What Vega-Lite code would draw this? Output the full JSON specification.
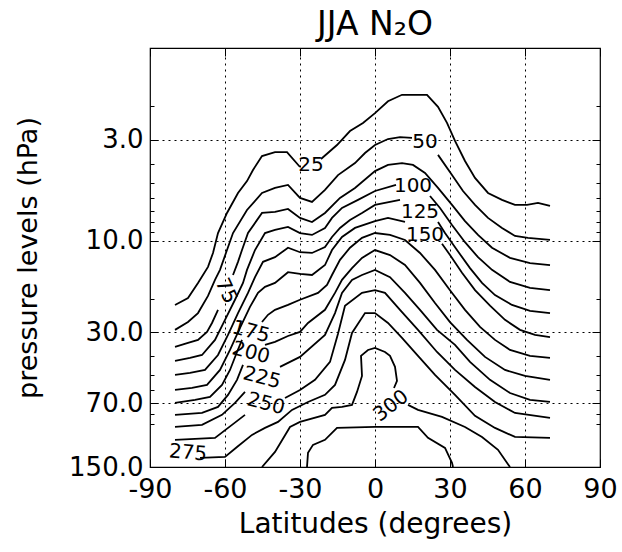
{
  "$schema": "https://vega.github.io/schema/vega-lite/v6.json",
  "width": 450,
  "height": 419,
  "autosize": {"type": "none"},
  "padding": {"left": 150, "top": 48, "right": 22, "bottom": 85},
  "title": {"text": "JJA N₂O", "fontSize": 33, "font": "DejaVu Sans", "fontWeight": "normal", "color": "black", "offset": 6, "anchor": "middle"},
  "config": {"view": {"stroke": "black", "strokeWidth": 1.2}, "font": "DejaVu Sans"},
  "resolve": {"axis": {"x": "independent", "y": "independent"}},
  "datasets": {
    "c": [
      {"s":"25a","lat":-80,"p":21.6},{"s":"25a","lat":-74.8,"p":19.9},{"s":"25a","lat":-70.8,"p":16.6},{"s":"25a","lat":-66.8,"p":13.7},{"s":"25a","lat":-64.8,"p":11.6},{"s":"25a","lat":-62.8,"p":9.14},{"s":"25a","lat":-59.2,"p":7.19},{"s":"25a","lat":-54.8,"p":5.66},{"s":"25a","lat":-51.2,"p":4.91},{"s":"25a","lat":-48.8,"p":4.30},{"s":"25a","lat":-45.2,"p":3.64},{"s":"25a","lat":-40,"p":3.47},{"s":"25a","lat":-35.2,"p":3.47},{"s":"25a","lat":-30,"p":4.15},
      {"s":"25b","lat":-21.6,"p":3.77},{"s":"25b","lat":-15.2,"p":3.19},{"s":"25b","lat":-10,"p":2.70},{"s":"25b","lat":-4.8,"p":2.45},{"s":"25b","lat":0,"p":2.18},{"s":"25b","lat":5.2,"p":1.89},{"s":"25b","lat":10.8,"p":1.75},{"s":"25b","lat":20.8,"p":1.75},{"s":"25b","lat":25.2,"p":2.02},{"s":"25b","lat":28.8,"p":2.45},{"s":"25b","lat":32,"p":3.04},{"s":"25b","lat":36,"p":3.86},{"s":"25b","lat":40,"p":4.73},{"s":"25b","lat":45.2,"p":5.66},{"s":"25b","lat":50.8,"p":6.15},{"s":"25b","lat":56,"p":6.53},{"s":"25b","lat":60.8,"p":6.53},{"s":"25b","lat":65.2,"p":6.38},{"s":"25b","lat":70,"p":6.61},
      {"s":"50a","lat":-80,"p":29.1},{"s":"50a","lat":-74.8,"p":26.5},{"s":"50a","lat":-70.8,"p":23.8},{"s":"50a","lat":-66.8,"p":19.4},{"s":"50a","lat":-64,"p":16.0},{"s":"50a","lat":-62,"p":14.2},{"s":"50a","lat":-59.2,"p":11.2},{"s":"50a","lat":-56.8,"p":9.14},{"s":"50a","lat":-51.2,"p":6.94},{"s":"50a","lat":-45.2,"p":5.66},{"s":"50a","lat":-40,"p":5.33},{"s":"50a","lat":-34.8,"p":5.14},{"s":"50a","lat":-30,"p":6.01},{"s":"50a","lat":-25.2,"p":6.30},{"s":"50a","lat":-20,"p":5.46},{"s":"50a","lat":-14.8,"p":4.57},{"s":"50a","lat":-8,"p":3.96},{"s":"50a","lat":-4,"p":3.51},{"s":"50a","lat":0,"p":3.19},{"s":"50a","lat":5.2,"p":2.97},{"s":"50a","lat":10,"p":2.90},{"s":"50a","lat":14.8,"p":2.93},
      {"s":"50b","lat":25.2,"p":3.59},{"s":"50b","lat":30.8,"p":4.57},{"s":"50b","lat":35.2,"p":5.53},{"s":"50b","lat":40,"p":6.53},{"s":"50b","lat":45.2,"p":7.63},{"s":"50b","lat":50.8,"p":8.60},{"s":"50b","lat":56,"p":9.46},{"s":"50b","lat":61.2,"p":9.69},{"s":"50b","lat":70,"p":9.93},
      {"s":"75a","lat":-80,"p":35.7},{"s":"75a","lat":-74.8,"p":34.0},{"s":"75a","lat":-70.8,"p":32.8},{"s":"75a","lat":-67.2,"p":29.8},{"s":"75a","lat":-65.2,"p":26.8},{"s":"75a","lat":-62.8,"p":22.9},
      {"s":"75b","lat":-56.8,"p":15.1},{"s":"75b","lat":-54.8,"p":12.9},{"s":"75b","lat":-53.2,"p":11.2},{"s":"75b","lat":-50.8,"p":9.14},{"s":"75b","lat":-45.2,"p":7.19},{"s":"75b","lat":-40,"p":7.10},{"s":"75b","lat":-34.8,"p":6.85},{"s":"75b","lat":-30,"p":7.63},{"s":"75b","lat":-25.2,"p":8.01},{"s":"75b","lat":-20,"p":7.19},{"s":"75b","lat":-14,"p":6.01},{"s":"75b","lat":-8,"p":5.33},{"s":"75b","lat":0,"p":4.36},{"s":"75b","lat":5.2,"p":4.05},{"s":"75b","lat":10.8,"p":3.96},{"s":"75b","lat":15.2,"p":4.05},{"s":"75b","lat":20,"p":4.46},{"s":"75b","lat":25.2,"p":5.33},{"s":"75b","lat":30.8,"p":6.53},{"s":"75b","lat":36,"p":7.92},{"s":"75b","lat":41.2,"p":9.35},{"s":"75b","lat":46.8,"p":10.9},{"s":"75b","lat":54,"p":12.3},{"s":"75b","lat":62,"p":13.1},{"s":"75b","lat":70,"p":13.4},
      {"s":"100a","lat":-80,"p":42.2},{"s":"100a","lat":-74,"p":40.7},{"s":"100a","lat":-69.2,"p":39.3},{"s":"100a","lat":-64,"p":32.8},{"s":"100a","lat":-60,"p":25.8},{"s":"100a","lat":-56,"p":20.3},{"s":"100a","lat":-52.8,"p":16.6},{"s":"100a","lat":-51.2,"p":14.2},{"s":"100a","lat":-48,"p":11.2},{"s":"100a","lat":-44,"p":9.14},{"s":"100a","lat":-40,"p":8.81},{"s":"100a","lat":-34.8,"p":8.50},{"s":"100a","lat":-30,"p":9.14},{"s":"100a","lat":-25.2,"p":9.35},{"s":"100a","lat":-20,"p":8.60},{"s":"100a","lat":-17.2,"p":7.63},{"s":"100a","lat":-13.2,"p":6.77},{"s":"100a","lat":-6.8,"p":6.15},{"s":"100a","lat":0,"p":5.53},{"s":"100a","lat":8.4,"p":5.14},
      {"s":"100b","lat":22,"p":5.87},{"s":"100b","lat":26,"p":6.77},{"s":"100b","lat":30.8,"p":8.30},{"s":"100b","lat":36,"p":10.2},{"s":"100b","lat":41.2,"p":12.2},{"s":"100b","lat":46.8,"p":14.2},{"s":"100b","lat":54,"p":16.4},{"s":"100b","lat":62,"p":17.6},{"s":"100b","lat":70,"p":18.1},
      {"s":"125a","lat":-80,"p":49.9},{"s":"125a","lat":-74,"p":48.7},{"s":"125a","lat":-68,"p":47.0},{"s":"125a","lat":-62.8,"p":39.3},{"s":"125a","lat":-58.8,"p":30.9},{"s":"125a","lat":-54.8,"p":23.8},{"s":"125a","lat":-50.8,"p":18.7},{"s":"125a","lat":-48,"p":15.5},{"s":"125a","lat":-44.8,"p":12.9},{"s":"125a","lat":-40,"p":12.2},{"s":"125a","lat":-34.8,"p":10.9},{"s":"125a","lat":-30,"p":11.5},{"s":"125a","lat":-25.2,"p":11.6},{"s":"125a","lat":-20,"p":10.8},{"s":"125a","lat":-17.2,"p":9.58},{"s":"125a","lat":-14,"p":8.60},{"s":"125a","lat":-10,"p":7.82},{"s":"125a","lat":-5.2,"p":7.19},{"s":"125a","lat":0,"p":6.53},{"s":"125a","lat":10,"p":6.15},
      {"s":"125b","lat":25.2,"p":8.01},{"s":"125b","lat":28,"p":9.14},{"s":"125b","lat":32.8,"p":11.2},{"s":"125b","lat":38,"p":13.9},{"s":"125b","lat":42.8,"p":16.6},{"s":"125b","lat":48,"p":19.2},{"s":"125b","lat":54.8,"p":21.6},{"s":"125b","lat":62,"p":23.2},{"s":"125b","lat":70,"p":23.8},
      {"s":"150a","lat":-80,"p":59.7},{"s":"150a","lat":-73.2,"p":58.3},{"s":"150a","lat":-67.2,"p":56.2},{"s":"150a","lat":-62,"p":47.0},{"s":"150a","lat":-58,"p":37.0},{"s":"150a","lat":-54,"p":28.4},{"s":"150a","lat":-50,"p":22.1},{"s":"150a","lat":-46.8,"p":18.7},{"s":"150a","lat":-44,"p":17.4},{"s":"150a","lat":-40,"p":16.6},{"s":"150a","lat":-34.8,"p":14.6},{"s":"150a","lat":-30,"p":14.9},{"s":"150a","lat":-25.2,"p":15.1},{"s":"150a","lat":-20,"p":13.4},{"s":"150a","lat":-17.2,"p":11.2},{"s":"150a","lat":-13.2,"p":9.58},{"s":"150a","lat":-8,"p":8.60},{"s":"150a","lat":0,"p":7.92},{"s":"150a","lat":5.2,"p":7.63},{"s":"150a","lat":12,"p":8.01},
      {"s":"150b","lat":26.8,"p":10.4},{"s":"150b","lat":30,"p":11.9},{"s":"150b","lat":34.8,"p":14.7},{"s":"150b","lat":40,"p":18.1},{"s":"150b","lat":46,"p":21.8},{"s":"150b","lat":52,"p":25.8},{"s":"150b","lat":58,"p":29.1},{"s":"150b","lat":64,"p":30.9},{"s":"150b","lat":70,"p":31.7},
      {"s":"175a","lat":-80,"p":69.7},{"s":"175a","lat":-72,"p":67.2},{"s":"175a","lat":-66,"p":64.9},{"s":"175a","lat":-61.2,"p":56.2},{"s":"175a","lat":-58,"p":47.0},{"s":"175a","lat":-55.2,"p":37.9},{"s":"175a","lat":-53.2,"p":32.8},
      {"s":"175b","lat":-45.2,"p":26.5},{"s":"175b","lat":-42.8,"p":24.3},{"s":"175b","lat":-40,"p":22.9},{"s":"175b","lat":-34.8,"p":21.6},{"s":"175b","lat":-30,"p":20.3},{"s":"175b","lat":-22.8,"p":18.7},{"s":"175b","lat":-19.2,"p":17.0},{"s":"175b","lat":-17.2,"p":15.1},{"s":"175b","lat":-14,"p":12.6},{"s":"175b","lat":-10,"p":10.9},{"s":"175b","lat":-5.2,"p":9.69},{"s":"175b","lat":0,"p":9.14},{"s":"175b","lat":6,"p":9.35},{"s":"175b","lat":12,"p":9.93},{"s":"175b","lat":18,"p":11.6},{"s":"175b","lat":24,"p":14.2},{"s":"175b","lat":30,"p":18.1},{"s":"175b","lat":36,"p":22.9},{"s":"175b","lat":42,"p":28.1},{"s":"175b","lat":48,"p":32.8},{"s":"175b","lat":54,"p":37.0},{"s":"175b","lat":62,"p":39.7},{"s":"175b","lat":70,"p":40.7},
      {"s":"200a","lat":-80,"p":80.4},{"s":"200a","lat":-69.2,"p":78.6},{"s":"200a","lat":-62.8,"p":73.1},{"s":"200a","lat":-58.8,"p":63.3},{"s":"200a","lat":-55.2,"p":52.9},{"s":"200a","lat":-52.8,"p":44.2},
      {"s":"200b","lat":-44,"p":34.8},{"s":"200b","lat":-40,"p":33.6},{"s":"200b","lat":-34.8,"p":31.3},{"s":"200b","lat":-30,"p":29.8},{"s":"200b","lat":-26.8,"p":26.8},{"s":"200b","lat":-20,"p":22.9},{"s":"200b","lat":-16,"p":18.7},{"s":"200b","lat":-13.2,"p":16.0},{"s":"200b","lat":-9.2,"p":13.9},{"s":"200b","lat":-5.2,"p":12.3},{"s":"200b","lat":0,"p":11.2},{"s":"200b","lat":6,"p":11.9},{"s":"200b","lat":12,"p":13.4},{"s":"200b","lat":18,"p":16.6},{"s":"200b","lat":24,"p":21.1},{"s":"200b","lat":30,"p":26.5},{"s":"200b","lat":36.8,"p":32.8},{"s":"200b","lat":44,"p":40.2},{"s":"200b","lat":52,"p":47.0},{"s":"200b","lat":60,"p":50.5},{"s":"200b","lat":70,"p":52.9},
      {"s":"225a","lat":-80,"p":92.9},{"s":"225a","lat":-69.2,"p":90.6},{"s":"225a","lat":-61.2,"p":80.4},{"s":"225a","lat":-56,"p":69.7},{"s":"225a","lat":-52,"p":61.1},
      {"s":"225b","lat":-38,"p":45.3},{"s":"225b","lat":-30,"p":40.2},{"s":"225b","lat":-20,"p":30.9},{"s":"225b","lat":-16,"p":23.8},{"s":"225b","lat":-13.2,"p":18.7},{"s":"225b","lat":-9.2,"p":16.0},{"s":"225b","lat":-5.2,"p":15.1},{"s":"225b","lat":0,"p":14.2},{"s":"225b","lat":6,"p":15.5},{"s":"225b","lat":12,"p":18.7},{"s":"225b","lat":18,"p":22.9},{"s":"225b","lat":24.8,"p":29.1},{"s":"225b","lat":32,"p":34.8},{"s":"225b","lat":38,"p":42.7},{"s":"225b","lat":46,"p":52.9},{"s":"225b","lat":54,"p":61.9},{"s":"225b","lat":62,"p":67.2},{"s":"225b","lat":70,"p":68.9},
      {"s":"250a","lat":-80,"p":108.4},{"s":"250a","lat":-64,"p":105.9},{"s":"250a","lat":-57.2,"p":90.6},{"s":"250a","lat":-52,"p":80.4},
      {"s":"250b","lat":-36,"p":65.7},{"s":"250b","lat":-30,"p":59.7},{"s":"250b","lat":-24,"p":52.9},{"s":"250b","lat":-18,"p":42.7},{"s":"250b","lat":-14.8,"p":30.5},{"s":"250b","lat":-12,"p":21.8},{"s":"250b","lat":-5.2,"p":18.7},{"s":"250b","lat":0,"p":18.1},{"s":"250b","lat":4,"p":18.7},{"s":"250b","lat":10,"p":22.9},{"s":"250b","lat":17.2,"p":29.1},{"s":"250b","lat":24.8,"p":37.9},{"s":"250b","lat":32,"p":47.0},{"s":"250b","lat":40,"p":57.6},{"s":"250b","lat":48,"p":68.9},{"s":"250b","lat":56,"p":78.6},{"s":"250b","lat":70,"p":83.4},
      {"s":"275","lat":-70,"p":134.5},{"s":"275","lat":-60,"p":132.9},{"s":"275","lat":-55.2,"p":118},{"s":"275","lat":-49.2,"p":102.2},{"s":"275","lat":-44,"p":94.0},{"s":"275","lat":-38.8,"p":87.5},{"s":"275","lat":-33.2,"p":75.8},{"s":"275","lat":-26.8,"p":68.9},{"s":"275","lat":-20,"p":63.3},{"s":"275","lat":-16,"p":56.2},{"s":"275","lat":-12,"p":41.7},{"s":"275","lat":-9.2,"p":30.2},{"s":"275","lat":-4,"p":23.8},{"s":"275","lat":0,"p":23.8},{"s":"275","lat":5.2,"p":26.8},{"s":"275","lat":10.8,"p":32.0},{"s":"275","lat":17.2,"p":39.7},{"s":"275","lat":24,"p":49.9},{"s":"275","lat":32,"p":63.3},{"s":"275","lat":40,"p":81.4},{"s":"275","lat":48,"p":94.0},{"s":"275","lat":56,"p":104.7},{"s":"275","lat":70,"p":105.9},
      {"s":"300a","lat":-45.2,"p":150},{"s":"300a","lat":-40,"p":125.2},{"s":"300a","lat":-34,"p":92.9},{"s":"300a","lat":-30,"p":87.5},{"s":"300a","lat":-20,"p":80.4},{"s":"300a","lat":-17.2,"p":74.0},{"s":"300a","lat":-13.2,"p":73.1},{"s":"300a","lat":-9.2,"p":71.4},{"s":"300a","lat":-7.2,"p":61.1},{"s":"300a","lat":-5.2,"p":50.5},{"s":"300a","lat":-5.6,"p":39.7},{"s":"300a","lat":-2.8,"p":37.0},{"s":"300a","lat":0,"p":36.1},{"s":"300a","lat":4,"p":37.9},{"s":"300a","lat":6,"p":39.7},{"s":"300a","lat":8,"p":45.3},{"s":"300a","lat":8.8,"p":53.5},{"s":"300a","lat":7.6,"p":58.3},
      {"s":"300b","lat":13.2,"p":71.4},{"s":"300b","lat":17.2,"p":75.8},{"s":"300b","lat":26.8,"p":82.4},{"s":"300b","lat":36,"p":92.9},{"s":"300b","lat":42.8,"p":104.7},{"s":"300b","lat":49.2,"p":122.1},{"s":"300b","lat":53.2,"p":145},{"s":"300b","lat":54,"p":150},
      {"s":"325","lat":-27.2,"p":150},{"s":"325","lat":-26.8,"p":126.7},{"s":"325","lat":-24.8,"p":115.1},{"s":"325","lat":-20,"p":108.4},{"s":"325","lat":-15.2,"p":94.0},{"s":"325","lat":0,"p":92.9},{"s":"325","lat":17.2,"p":92.9},{"s":"325","lat":21.2,"p":105.9},{"s":"325","lat":28,"p":119.3},{"s":"325","lat":30.8,"p":142.8},{"s":"325","lat":31.2,"p":150}
    ],
    "l": [
      {"t":"25","lat":-25.6,"p":4.05},
      {"t":"50","lat":20,"p":3.08},
      {"t":"75","lat":-59.6,"p":18.3},
      {"t":"100","lat":15.2,"p":5.21},
      {"t":"125","lat":18,"p":7.10},
      {"t":"150","lat":20,"p":9.35},
      {"t":"175","lat":-49.6,"p":29.8},
      {"t":"200","lat":-49.6,"p":38.3},
      {"t":"225","lat":-45.2,"p":51.7},
      {"t":"250","lat":-43.6,"p":70.5},
      {"t":"275","lat":-74.8,"p":126.7},
      {"t":"300","lat":6.4,"p":72.2}
    ]
  },
  "layer": [
    {
      "data": {"name": "c"},
      "transform": [{"window": [{"op": "row_number", "as": "i"}]}],
      "mark": {"type": "line", "color": "black", "strokeWidth": 1.8, "clip": true},
      "encoding": {
        "x": {"field": "lat", "type": "quantitative",
          "scale": {"domain": [-90, 90], "nice": false, "zero": false},
          "axis": {"orient": "bottom", "values": [-90, -60, -30, 0, 30, 60, 90], "title": "Latitudes (degrees)",
            "domain": false, "tickSize": -8, "tickColor": "black", "tickWidth": 1, "labelPadding": 17,
            "labelFontSize": 27, "labelFont": "DejaVu Sans", "labelColor": "black", "labelFlush": false, "labelOverlap": false,
            "labelExpr": "datum.value < 0 ? '-' + abs(datum.value) : '' + datum.value",
            "titleFontSize": 28, "titleFont": "DejaVu Sans", "titleFontWeight": "normal", "titleColor": "black", "titlePadding": 8,
            "grid": true, "gridColor": "black", "gridDash": [2, 4], "gridWidth": 1,
            "gridOpacity": {"condition": {"test": "abs(datum.value) < 90", "value": 1}, "value": 0}}},
        "y": {"field": "p", "type": "quantitative",
          "scale": {"type": "log", "domain": [1, 150], "reverse": true, "nice": false},
          "axis": {"orient": "left", "values": [2, 3, 4, 5, 6, 7, 8, 9, 10, 20, 30, 40, 50, 60, 70, 80, 90, 150], "title": "pressure levels (hPa)",
            "domain": false, "tickColor": "black", "tickWidth": 1,
            "tickSize": {"condition": {"test": "indexof([3,10,30,70,150], datum.value) >= 0", "value": -8}, "value": -4},
            "labelPadding": 15, "labelFontSize": 26, "labelFont": "DejaVu Sans", "labelColor": "black", "labelFlush": false, "labelOverlap": false,
            "labelExpr": "indexof([3,10,30,70,150], datum.value) >= 0 ? format(datum.value, '.1f') : ''",
            "titleFontSize": 27, "titleFont": "DejaVu Sans", "titleFontWeight": "normal", "titleColor": "black", "titlePadding": 26,
            "grid": true, "gridColor": "black", "gridDash": [2, 4], "gridWidth": 1,
            "gridOpacity": {"condition": {"test": "indexof([3,10,30,70], datum.value) >= 0", "value": 1}, "value": 0}}},
        "detail": {"field": "s", "type": "nominal"},
        "order": {"field": "i", "type": "quantitative"}
      }
    },
    {
      "data": {"name": "l"},
      "mark": {"type": "point", "opacity": 0},
      "encoding": {
        "x": {"field": "lat", "type": "quantitative",
          "axis": {"orient": "top", "values": [-90, -60, -30, 0, 30, 60, 90], "title": null, "labels": false, "domain": false, "grid": false,
            "tickSize": -8, "tickColor": "black", "tickWidth": 1}},
        "y": {"field": "p", "type": "quantitative",
          "axis": {"orient": "right", "values": [2, 3, 4, 5, 6, 7, 8, 9, 10, 20, 30, 40, 50, 60, 70, 80, 90, 150], "title": null, "labels": false, "domain": false, "grid": false,
            "tickColor": "black", "tickWidth": 1,
            "tickSize": {"condition": {"test": "indexof([3,10,30,70,150], datum.value) >= 0", "value": -8}, "value": -4}}}
      }
    },
    {
      "data": {"name": "l"},
      "transform": [{"filter": {"field": "t", "oneOf": ["25", "50", "100", "125", "150"]}}],
      "mark": {"type": "text", "fontSize": 20, "font": "DejaVu Sans", "color": "black", "align": "center", "baseline": "middle"},
      "encoding": {"x": {"field": "lat", "type": "quantitative", "axis": null}, "y": {"field": "p", "type": "quantitative", "axis": null}, "text": {"field": "t"}}
    },
    {
      "data": {"name": "l"},
      "transform": [{"filter": {"field": "t", "oneOf": ["175", "200", "225", "250"]}}],
      "mark": {"type": "text", "fontSize": 20, "font": "DejaVu Sans", "color": "black", "align": "center", "baseline": "middle", "angle": 15},
      "encoding": {"x": {"field": "lat", "type": "quantitative", "axis": null}, "y": {"field": "p", "type": "quantitative", "axis": null}, "text": {"field": "t"}}
    },
    {
      "data": {"name": "l"},
      "transform": [{"filter": {"field": "t", "oneOf": ["75"]}}],
      "mark": {"type": "text", "fontSize": 20, "font": "DejaVu Sans", "color": "black", "align": "center", "baseline": "middle", "angle": 65},
      "encoding": {"x": {"field": "lat", "type": "quantitative", "axis": null}, "y": {"field": "p", "type": "quantitative", "axis": null}, "text": {"field": "t"}}
    },
    {
      "data": {"name": "l"},
      "transform": [{"filter": {"field": "t", "oneOf": ["275"]}}],
      "mark": {"type": "text", "fontSize": 20, "font": "DejaVu Sans", "color": "black", "align": "center", "baseline": "middle", "angle": 5},
      "encoding": {"x": {"field": "lat", "type": "quantitative", "axis": null}, "y": {"field": "p", "type": "quantitative", "axis": null}, "text": {"field": "t"}}
    },
    {
      "data": {"name": "l"},
      "transform": [{"filter": {"field": "t", "oneOf": ["300"]}}],
      "mark": {"type": "text", "fontSize": 20, "font": "DejaVu Sans", "color": "black", "align": "center", "baseline": "middle", "angle": -38},
      "encoding": {"x": {"field": "lat", "type": "quantitative", "axis": null}, "y": {"field": "p", "type": "quantitative", "axis": null}, "text": {"field": "t"}}
    }
  ]
}
